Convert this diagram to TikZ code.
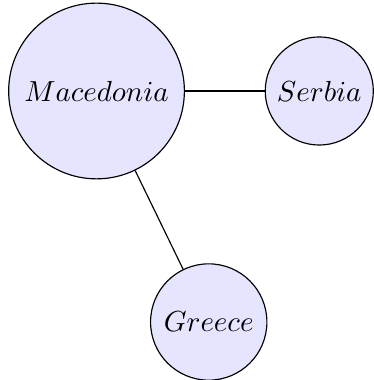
\documentclass[tikz,border=0pt]{standalone}
\usepackage{amsmath}
\usepackage{tikz}
\usetikzlibrary{positioning}

\begin{document}
\begin{tikzpicture}
      \tikzstyle{every node}=[circle,draw,fill=blue!10,inner sep=0pt]
      \useasboundingbox (-1.17,-3.503) rectangle (3.363,1.103);
      \node[minimum size=2.13cm] (mac) at (0,0) {$Macedonia$};
      \node[minimum size=1.31cm] (ser) at (2.70,0) {$Serbia$};
      \node[minimum size=1.41cm] (gre) at (1.36,-2.80) {$Greece$};
      \draw (mac) -- (ser);
      \draw (mac) -- (gre);
    \end{tikzpicture}
\end{document}
